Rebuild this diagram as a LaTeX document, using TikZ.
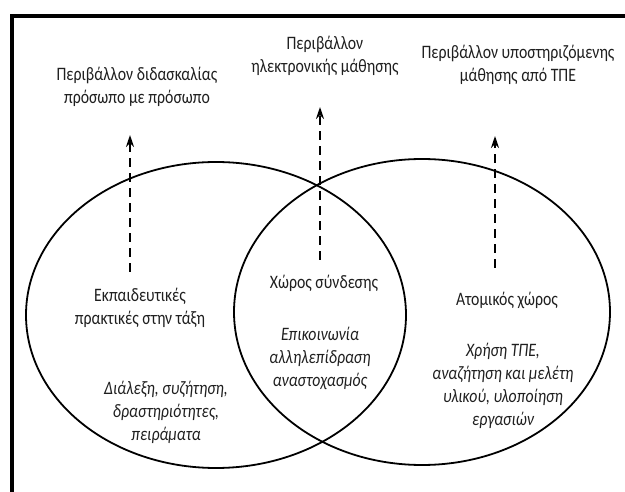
\documentclass[tikz,border=0pt]{standalone}
\usepackage{fontspec}
\setmainfont{Carlito}[FakeStretch=0.83]
\usetikzlibrary{arrows.meta,shapes.geometric}

\begin{document}
\begin{tikzpicture}[
            x=1pt, y=-1pt,
            every node/.style={font=\fontsize{19}{23}\selectfont, text=black!88, align=center, inner sep=0pt},
            ring/.style={draw, ellipse, line width=1.8pt, minimum width=380pt, minimum height=306pt},
            slant/.style={font=\fontsize{19}{23}\selectfont\itshape},
            rise/.style={-{Stealth[length=12pt,width=8pt]}, line width=1.8pt, dash pattern=on 9pt off 6pt}
            ]
        \useasboundingbox (0,0) rectangle (625,492);
        \draw[line width=4pt] (11.5,492) -- (11.5,16) -- (625,16);

        % the two spaces
        \node[ring] (class) at (216,315) {};
        \node[ring, minimum width=376pt] (own) at (422,312) {};

        % environments on top
        \node (face) at (137,86.5) {Περιβάλλον διδασκαλίας\\πρόσωπο με πρόσωπο};
        \node (elearn) at (325,56) {Περιβάλλον\\ηλεκτρονικής μάθησης};
        \node (ictenv) at (518,65) {Περιβάλλον υποστηριζόμενης\\μάθησης από ΤΠΕ};

        % inside the circles
        \node (practice) at (140,307.5) {Εκπαιδευτικές\\πρακτικές στην τάξη};
        \node (link) at (324,283) {Χώρος σύνδεσης};
        \node (self) at (507,300) {Ατομικός χώρος};
        \node[slant] (lecture) at (166,412) {Διάλεξη, συζήτηση,\\δραστηριότητες,\\πειράματα};
        \node[slant] (comm) at (320,358) {Επικοινωνία\\αλληλεπίδραση\\αναστοχασμός};
        \node[slant] (ict) at (503,386) {Χρήση ΤΠΕ,\\αναζήτηση και μελέτη\\υλικού, υλοποίηση\\εργασιών};

        % dashed arrows
        \coordinate (l0) at (130,272);
        \coordinate (l1) at (130,135);
        \coordinate (m0) at (320,260);
        \coordinate (m1) at (320,107);
        \coordinate (r0) at (495,268);
        \coordinate (r1) at (495,136);
        \draw[rise] (l0) -- (l1);
        \draw[rise] (m0) -- (m1);
        \draw[rise] (r0) -- (r1);
\end{tikzpicture}
\end{document}
